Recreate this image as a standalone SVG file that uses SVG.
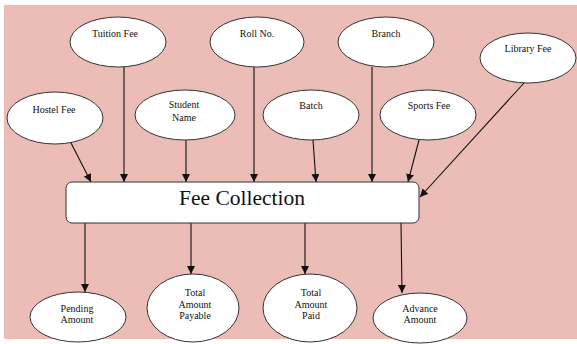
<svg xmlns="http://www.w3.org/2000/svg" width="577" height="344" viewBox="0 0 577 344">
<style>
.n ellipse{fill:#fff;stroke:#333;stroke-width:1}
text{font-family:"Liberation Serif","Times New Roman",Times,serif;fill:#111;text-anchor:middle}
.n text{font-size:10px}
#connectors line{stroke:#111;stroke-width:1.1;marker-end:url(#ah)}
</style>
<defs>
<marker id="ah" viewBox="0 0 10 10" refX="10" refY="5" markerWidth="8" markerHeight="8" markerUnits="userSpaceOnUse" orient="auto">
<path d="M0,0 L10,5 L0,10 z" fill="#111"/>
</marker>
</defs>
<rect x="0" y="0" width="577" height="344" fill="#fff"/>
<rect x="4" y="5" width="573" height="334" fill="#EBBDB6"/>
<g id="connectors">
<line x1="70" y1="141" x2="91" y2="182"/>
<line x1="124" y1="67" x2="124" y2="182"/>
<line x1="186" y1="140" x2="186" y2="182"/>
<line x1="254" y1="67" x2="254" y2="182"/>
<line x1="313" y1="140" x2="316" y2="182"/>
<line x1="372" y1="67" x2="372" y2="182"/>
<line x1="419" y1="140" x2="408" y2="182"/>
<line x1="524" y1="83" x2="420" y2="197"/>
<line x1="85" y1="223" x2="85" y2="292"/>
<line x1="191" y1="223" x2="191" y2="274"/>
<line x1="305" y1="223" x2="305" y2="274"/>
<line x1="401" y1="223" x2="402" y2="293"/>
</g>
<g id="fee-collection">
<rect x="66" y="182" width="353" height="41" rx="6" fill="#fff" stroke="#333" stroke-width="1"/>
<text x="242" y="205" font-size="21.5">Fee Collection</text>
</g>
<g id="tuition-fee" class="n"><ellipse cx="118" cy="42" rx="48" ry="25"/><text x="115" y="37">Tuition Fee</text></g>
<g id="roll-no" class="n"><ellipse cx="257" cy="42" rx="47" ry="25"/><text x="257" y="37">Roll No.</text></g>
<g id="branch" class="n"><ellipse cx="386" cy="42" rx="48" ry="25"/><text x="386" y="37">Branch</text></g>
<g id="library-fee" class="n"><ellipse cx="528" cy="58" rx="48" ry="25"/><text x="528" y="52">Library Fee</text></g>
<g id="hostel-fee" class="n"><ellipse cx="55" cy="118" rx="48" ry="26"/><text x="54" y="113">Hostel Fee</text></g>
<g id="student-name" class="n"><ellipse cx="185" cy="115" rx="50" ry="25"/><text x="184" y="108">Student</text><text x="184" y="121">Name</text></g>
<g id="batch" class="n"><ellipse cx="311" cy="115" rx="48" ry="25"/><text x="311" y="109">Batch</text></g>
<g id="sports-fee" class="n"><ellipse cx="428" cy="115" rx="48" ry="25"/><text x="429" y="109">Sports Fee</text></g>
<g id="pending-amount" class="n"><ellipse cx="78" cy="317" rx="48" ry="25"/><text x="77" y="312">Pending</text><text x="77" y="323">Amount</text></g>
<g id="total-amount-payable" class="n"><ellipse cx="193" cy="308" rx="46" ry="34"/><text x="195" y="296">Total</text><text x="195" y="308">Amount</text><text x="195" y="319">Payable</text></g>
<g id="total-amount-paid" class="n"><ellipse cx="310" cy="308" rx="47" ry="34"/><text x="311" y="296">Total</text><text x="311" y="308">Amount</text><text x="311" y="319">Paid</text></g>
<g id="advance-amount" class="n"><ellipse cx="420" cy="318" rx="47" ry="25"/><text x="420" y="312">Advance</text><text x="420" y="323">Amount</text></g>
</svg>
